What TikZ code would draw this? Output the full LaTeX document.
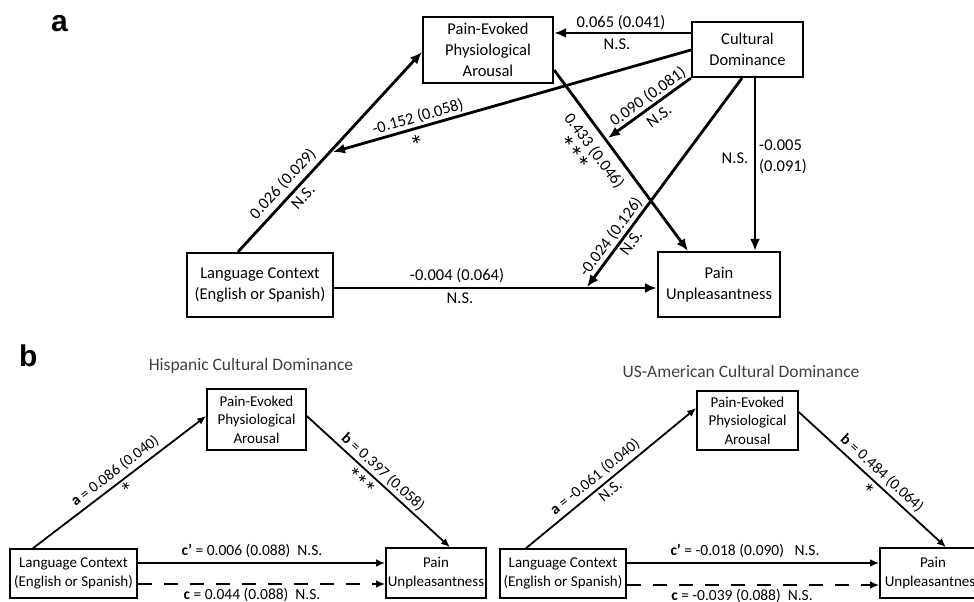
\documentclass[tikz,border=0pt]{standalone}
\usepackage{fontspec}
\setmainfont{Carlito}
\newfontfamily\panelfont{Liberation Sans}
\usetikzlibrary{arrows.meta,calc}
\newcommand{\astr}[1]{\smash{\raisebox{-0.48em}{#1}}}
\begin{document}
\begin{tikzpicture}[x=1pt,y=-1pt,
  boxA/.style={draw, line width=2.2pt, inner sep=1pt, align=center, font=\fontsize{16.5}{21}\selectfont},
  boxB/.style={draw, line width=1.6pt, inner sep=1pt, align=center, font=\fontsize{15}{18.5}\selectfont},
  arrA/.style={line width=2.8pt, -{Latex[length=12pt,width=10pt]}},
  arrB/.style={line width=1.8pt, -{Latex[length=9pt,width=7.5pt]}},
  lblA/.style={inner sep=0pt, font=\fontsize{16.5}{20.5}\selectfont},
  lblB/.style={inner sep=0pt, font=\fontsize{15.5}{18}\selectfont},
  astA/.style={inner sep=0pt, font=\fontsize{28}{28}\selectfont},
  astB/.style={inner sep=0pt, font=\fontsize{24}{24}\selectfont},
  ttl/.style={inner sep=0pt, text=black!75, font=\fontsize{17.5}{20}\selectfont},
  panel/.style={inner sep=0pt, anchor=base west, font=\panelfont\bfseries\fontsize{30}{32}\selectfont}
]
\clip (0,0) rectangle (974,602);
\fill[white] (0,0) rectangle (974,602);

% ---------------- panel a ----------------
\node[panel] (pa) at (51,32) {a};
\node[boxA, minimum width=130pt, minimum height=66pt] (PEa) at (488,50) {Pain-Evoked\\Physiological\\Arousal};
\node[boxA, minimum width=111pt, minimum height=55pt] (CDa) at (747.5,49.5) {Cultural\\Dominance};
\node[boxA, minimum width=146pt, minimum height=64pt] (LCa) at (260,285) {Language Context\\(English or Spanish)};
\node[boxA, minimum width=122pt, minimum height=65pt] (PUa) at (719,284.5) {Pain\\Unpleasantness};

\coordinate (m1) at (333,152);
\coordinate (m2) at (608,138);
\coordinate (m3) at (587,287);

\draw[arrA] (238,0 |- LCa.north) -- (PEa.west |- 0,52);
\draw[arrA] (CDa.west |- 0,33) -- (PEa.east |- 0,33);
\draw[arrA] (CDa.west |- 0,50) -- (m1);
\draw[arrA] (CDa.south west) -- (m2);
\draw[arrA] (PEa.east |- 0,70) -- (688,0 |- PUa.north);
\draw[arrA] (742,0 |- CDa.south) -- (m3);
\draw[arrA] (LCa.east |- 0,288) -- (PUa.west |- 0,288);
\draw[arrA] (755,0 |- CDa.south) -- (755,0 |- PUa.north);

\node[lblA, rotate=47.4] (la1) at (283,184) {0.026 (0.029)};
\node[lblA, rotate=47.4] (la2) at (303,197) {N.S.};
\node[lblA, rotate=15.9] (la3) at (418,117) {-0.152 (0.058)};
\node[astA, rotate=15.9] (la4) at (417,142) {\astr{*}};
\node[lblA] (la5) at (621,23) {0.065 (0.041)};
\node[lblA] (la6) at (617,44) {N.S.};
\node[lblA, rotate=35.7] (la7) at (648,97) {0.090 (0.081)};
\node[lblA, rotate=35.7] (la8) at (659,116) {N.S.};
\node[lblA, rotate=-53.4] (la9) at (594,151) {0.433 (0.046)};
\node[astA, rotate=-53.4] (la10) at (575,152) {\astr{*\kern-1.5pt*\kern-1.5pt*}};
\node[lblA, rotate=53.4] (la11) at (611,237) {-0.024 (0.126)};
\node[lblA, rotate=53.4] (la12) at (631,243) {N.S.};
\node[lblA] (la13) at (457,276) {-0.004 (0.064)};
\node[lblA] (la14) at (460,298) {N.S.};
\node[lblA] (la15) at (735,158) {N.S.};
\node[lblA, align=left, anchor=west] (la16) at (759,157) {-0.005\\(0.091)};

% ---------------- panel b ----------------
\node[panel] (pb) at (19,366) {b};
\node[ttl] (t1) at (251,366) {Hispanic Cultural Dominance};
\node[ttl] (t2) at (741,371) {US-American Cultural Dominance};

\node[boxB, minimum width=99pt, minimum height=61pt] (PEbL) at (256.5,419.5) {Pain-Evoked\\Physiological\\Arousal};
\node[boxB, minimum width=127pt, minimum height=49pt] (LCbL) at (73.5,573.5) {Language Context\\(English or Spanish)};
\node[boxB, minimum width=100pt, minimum height=50pt] (PUbL) at (436,573) {Pain\\Unpleasantness};

\node[boxB, minimum width=101pt, minimum height=59pt] (PEbR) at (747.5,420.5) {Pain-Evoked\\Physiological\\Arousal};
\node[boxB, minimum width=126pt, minimum height=49pt] (LCbR) at (563,573.5) {Language Context\\(English or Spanish)};
\node[boxB, minimum width=106pt, minimum height=50pt] (PUbR) at (933,573) {Pain\\Unpleasantness};

\draw[arrB] (33,0 |- LCbL.north) -- (PEbL.west |- 0,416);
\draw[arrB] (PEbL.east |- 0,416) -- (450,0 |- PUbL.north);
\draw[arrB] (LCbL.east |- 0,563) -- (PUbL.west |- 0,563);
\draw[arrB, dash pattern=on 14pt off 12pt] (LCbL.east |- 0,584) -- (PUbL.west |- 0,584);

\draw[arrB] (526,0 |- LCbR.north) -- (PEbR.west |- 0,408);
\draw[arrB] (PEbR.east |- 0,412) -- (946,0 |- PUbR.north);
\draw[arrB] (LCbR.east |- 0,563) -- (PUbR.west |- 0,563);
\draw[arrB, dash pattern=on 14pt off 12pt] (LCbR.east |- 0,585) -- (PUbR.west |- 0,585);

\node[lblB, rotate=37.4] (lb1) at (115,471) {\textbf{a} = 0.086 (0.040)};
\node[astB, rotate=37.4] (lb2) at (127,488) {\astr{*}};
\node[lblB, rotate=-42.5] (lb3) at (383,472) {\textbf{b} = 0.397 (0.058)};
\node[astB, rotate=-42.5] (lb4) at (362,480) {\astr{*\kern-1.5pt*\kern-1.5pt*}};
\node[lblB] (lb5) at (252,551) {\textbf{c'} = 0.006 (0.088)\ \ N.S.};
\node[lblB] (lb6) at (252,595) {\textbf{c} = 0.044 (0.088)\ \ N.S.};

\node[lblB, rotate=39.5] (lb7) at (595,477) {\textbf{a} = -0.061 (0.040)};
\node[lblB, rotate=39.5] (lb8) at (610,491) {N.S.};
\node[lblB, rotate=-42.6] (lb9) at (882,473) {\textbf{b} = 0.484 (0.064)};
\node[astB, rotate=-42.6] (lb10) at (869,489) {\astr{*}};
\node[lblB] (lb11) at (745,551) {\textbf{c'} = -0.018 (0.090)\ \ \ N.S.};
\node[lblB] (lb12) at (742,596) {\textbf{c} = -0.039 (0.088)\ \ N.S.};
\end{tikzpicture}
\end{document}
